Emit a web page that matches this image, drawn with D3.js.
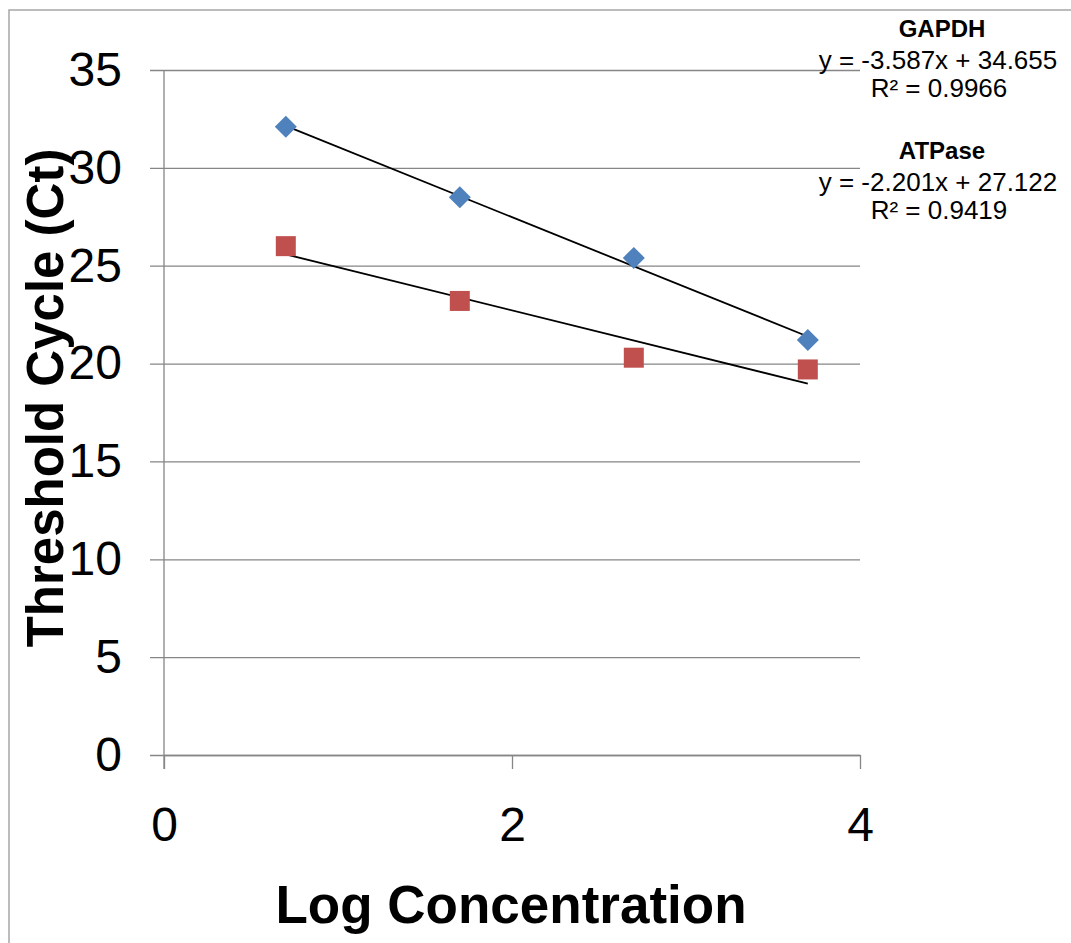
<!DOCTYPE html>
<html>
<head>
<meta charset="utf-8">
<script src="https://cdn.jsdelivr.net/npm/d3@7"></script>
<style>
  body { margin: 0; background: #fff; }
  svg { display: block; font-family: "Liberation Sans", Arial, sans-serif; }
</style>
</head>
<body>
<svg id="chart"></svg>
<script>
// data
var logConc = [0.7, 1.7, 2.7, 3.7];
var gapdhCt = [32.1, 28.5, 25.4, 21.2];
var atpaseCt = [26.0, 23.2, 20.3, 19.7];
var seriesNames = ["GAPDH", "ATPase"];
var slopes = [-3.587, -2.201];
var intercepts = [34.655, 27.122];
var rSquared = ["0.9966", "0.9419"];
var xTicks = [0, 2, 4];
var yTicks = [0, 5, 10, 15, 20, 25, 30, 35];

var screen = {width: 1071, height: 943};
var plot = {left: 164, right: 860, top: 70, bottom: 755};

var svg = d3.select("#chart")
    .attr("width", screen.width)
    .attr("height", screen.height);

// outer chart border
svg.append("rect")
    .attr("x", 9)
    .attr("y", 10)
    .attr("width", screen.width + 20)
    .attr("height", screen.height + 20)
    .attr("fill", "none")
    .attr("stroke", "#a6a6a6")
    .attr("stroke-width", 1.5);

var x = d3.scaleLinear().domain([0, 4]).range([plot.left, plot.right]);
var y = d3.scaleLinear().domain([0, 35]).range([plot.bottom, plot.top]);

// gridlines + y ticks
var yAxis = d3.axisLeft(y)
    .tickValues(yTicks)
    .tickSize(14)
    .tickPadding(28)
    .tickSizeOuter(0);

var gy = svg.append("g")
    .attr("transform", "translate(" + plot.left + ",0)")
    .call(yAxis);
gy.select(".domain").remove();
gy.selectAll(".tick line")
    .attr("x1", -14)
    .attr("x2", plot.right - plot.left)
    .attr("stroke", "#868686")
    .attr("stroke-width", 1.3);
gy.selectAll(".tick text")
    .attr("font-size", 48)
    .attr("font-family", "Liberation Sans, Arial, sans-serif")
    .attr("fill", "#000");

// y axis line
svg.append("line")
    .attr("x1", plot.left).attr("x2", plot.left)
    .attr("y1", plot.top).attr("y2", plot.bottom + 14)
    .attr("stroke", "#868686")
    .attr("stroke-width", 1.3);

// x axis
var xAxis = d3.axisBottom(x)
    .tickValues(xTicks)
    .tickFormat(d3.format("d"))
    .tickSize(14)
    .tickPadding(38)
    .tickSizeOuter(0);

var gx = svg.append("g")
    .attr("transform", "translate(0," + plot.bottom + ")")
    .call(xAxis);
gx.select(".domain").attr("stroke", "#868686").attr("stroke-width", 1.3);
gx.selectAll(".tick line").attr("stroke", "#868686").attr("stroke-width", 1.3);
gx.selectAll(".tick text")
    .attr("font-size", 48)
    .attr("font-family", "Liberation Sans, Arial, sans-serif")
    .attr("fill", "#000");

// trendlines
var trends = svg.append("g");
slopes.forEach(function(m, i)
{
    var x0 = d3.min(logConc), x1 = d3.max(logConc);
    trends.append("line")
        .attr("x1", x(x0)).attr("y1", y(m * x0 + intercepts[i]))
        .attr("x2", x(x1)).attr("y2", y(m * x1 + intercepts[i]))
        .attr("stroke", "#000")
        .attr("stroke-width", 1.8);
});

// markers
svg.append("g").selectAll("path")
    .data(logConc.map(function(d, i) { return [d, gapdhCt[i]]; }))
    .enter()
    .append("path")
    .attr("d", "M0,-11L11,0L0,11L-11,0Z")
    .attr("transform", function(d) { return "translate(" + x(d[0]) + "," + y(d[1]) + ")"; })
    .attr("fill", "#4F81BD");

svg.append("g").selectAll("rect")
    .data(logConc.map(function(d, i) { return [d, atpaseCt[i]]; }))
    .enter()
    .append("rect")
    .attr("x", function(d) { return x(d[0]) - 10; })
    .attr("y", function(d) { return y(d[1]) - 10; })
    .attr("width", 20)
    .attr("height", 20)
    .attr("fill", "#C0504D");

// trendline labels
var labelBase = [37, 159];
var labels = svg.append("g").attr("text-anchor", "middle");
seriesNames.forEach(function(name, i)
{
    var b = labelBase[i];
    labels.append("text").attr("x", 942).attr("y", b)
        .attr("font-size", 24)
        .attr("font-weight", "bold").text(name);
    labels.append("text").attr("x", 938).attr("y", b + 32)
        .attr("font-size", 26)
        .text("y = " + slopes[i] + "x + " + intercepts[i]);
    labels.append("text").attr("x", 939).attr("y", b + 60)
        .attr("font-size", 26)
        .text("R\u00B2 = " + rSquared[i]);
});

// axis titles
svg.append("text")
    .attr("x", 511)
    .attr("y", 923)
    .attr("text-anchor", "middle")
    .attr("font-size", 53)
    .attr("font-weight", "bold")
    .text("Log Concentration");

svg.append("text")
    .attr("transform", "translate(63,398) rotate(-90)")
    .attr("text-anchor", "middle")
    .attr("font-size", 51)
    .attr("font-weight", "bold")
    .text("Threshold Cycle (Ct)");
</script>
</body>
</html>
